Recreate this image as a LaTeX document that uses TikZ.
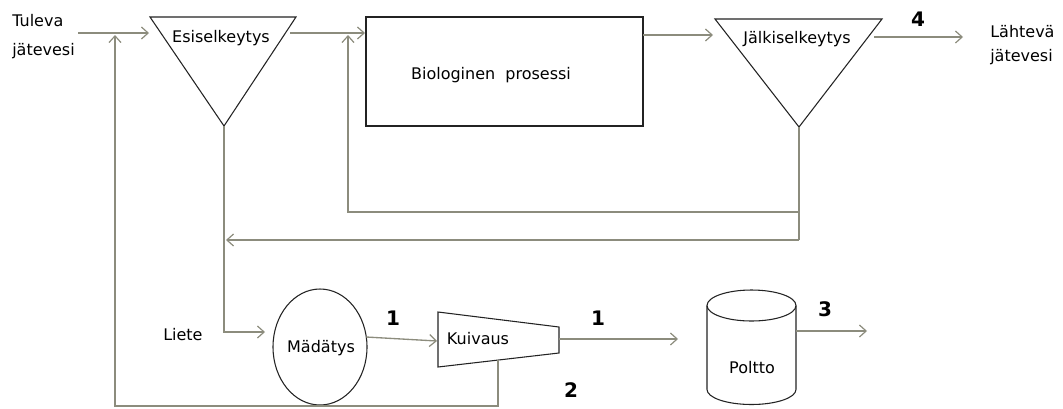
\documentclass[tikz,border=0pt]{standalone}
\usepackage{fontspec}
\setmainfont{DejaVu Sans}
\usetikzlibrary{arrows.meta,shapes.geometric}
\definecolor{flowgray}{RGB}{140,140,125}
\definecolor{unitedge}{RGB}{35,35,35}
\begin{document}
\begin{tikzpicture}[x=0.75pt,y=-0.75pt,
  lbl/.style={font=\fontsize{12}{14}\selectfont, inner sep=0pt, anchor=base},
  lblw/.style={lbl, anchor=base west},
  num/.style={font=\fontsize{15}{18}\selectfont\bfseries, inner sep=0pt, anchor=base},
  unit/.style={draw=unitedge, line width=0.8pt},
  pipe/.style={draw=flowgray, line width=1pt},
  arr/.style={pipe, -{Straight Barb[length=5pt,width=9pt,line width=0.9pt]}},
]
\useasboundingbox (0,0) rectangle (1063,408);

% ---- process units ----
% primary clarifier
\coordinate (p1) at (150,17);
\coordinate (p2) at (296,17);
\coordinate (p3) at (224,126);
\draw[unit] (p1) -- (p2) -- (p3) -- cycle;
\node[lbl] (esi) at (221,42) {Esiselkeytys};

% biological process
\coordinate (b1) at (366,17);
\coordinate (b2) at (643,126);
\draw[unit] (b1) rectangle (b2);
\node[lbl] (bio) at (491,79) {Biologinen\ \ prosessi};

% secondary clarifier
\coordinate (s1) at (715,19);
\coordinate (s2) at (882,19);
\coordinate (s3) at (799,127);
\draw[unit] (s1) -- (s2) -- (s3) -- cycle;
\node[lbl] (jal) at (797,43) {Jälkiselkeytys};

% digester
\node[unit, draw, ellipse, minimum width=70.5pt, minimum height=87pt, inner sep=0pt] (mad) at (320,347) {};
\node[lbl] (madt) at (321,352) {Mädätys};

% dewatering
\coordinate (k1) at (438,312);
\coordinate (k2) at (559,327);
\coordinate (k3) at (559,353);
\coordinate (k4) at (438,367);
\draw[unit] (k1) -- (k2) -- (k3) -- (k4) -- cycle;
\node[lbl] (kui) at (478,344) {Kuivaus};

% incineration
\draw[unit] (707,305.5) -- (707,389.5) arc[start angle=180, end angle=0, x radius=44.5, y radius=15] -- (796,305.5);
\draw[unit] (751.5,305.5) ellipse[x radius=44.5, y radius=15.5];
\node[lbl] (pol) at (752,373) {Poltto};

% ---- free labels ----
\node[lblw] (tul1) at (12,26) {Tuleva};
\node[lblw] (tul2) at (12,55) {jätevesi};
\node[lblw] (lah1) at (990,37) {Lähtevä};
\node[lblw] (lah2) at (990,61) {jätevesi};
\node[lblw] (lie) at (163,340) {Liete};

\node[num] (n4) at (918,26) {4};
\node[num] (n1a) at (393,325) {1};
\node[num] (n1b) at (598,325) {1};
\node[num] (n2) at (571,397) {2};
\node[num] (n3) at (825,316) {3};

% ---- flow connectors ----
\coordinate (inS) at (78,33);   \coordinate (inE) at (149,33);
\coordinate (e1S) at (290,33);  \coordinate (e1E) at (365,33);
\coordinate (bS) at (643,35);   \coordinate (bE) at (713,35);
\coordinate (outS) at (874,37); \coordinate (outE) at (963,37);

\draw[arr] (inS) -- (inE);
\draw[arr] (e1S) -- (e1E);
\draw[arr] (bS) -- (bE);
\draw[arr] (outS) -- (outE);

% return sludge loops from secondary clarifier
\coordinate (r1) at (799,212);
\coordinate (r2) at (348,212);
\coordinate (r2E) at (348,35);
\coordinate (r3) at (799,240);
\coordinate (r3E) at (226,240);
\draw[pipe] (s3) -- (r3);
\draw[arr] (r1) -- (r2) -- (r2E);
\draw[arr] (r3) -- (r3E);

% sludge line to digester
\coordinate (l1) at (224,332);
\coordinate (l1E) at (265,332);
\draw[arr] (p3) -- (l1) -- (l1E);

% sludge treatment chain
\coordinate (m1) at (366,337);  \coordinate (m1E) at (437,341);
\coordinate (d1) at (559,339);  \coordinate (d1E) at (678,339);
\coordinate (c1) at (796,331);  \coordinate (c1E) at (867,331);
\draw[arr] (m1) -- (m1E);
\draw[arr] (d1) -- (d1E);
\draw[arr] (c1) -- (c1E);

% reject water back to the inlet
\coordinate (w1) at (498,360);
\coordinate (w2) at (498,406);
\coordinate (w3) at (115,406);
\coordinate (w3E) at (115,35);
\draw[arr] (w1) -- (w2) -- (w3) -- (w3E);
\end{tikzpicture}
\end{document}
